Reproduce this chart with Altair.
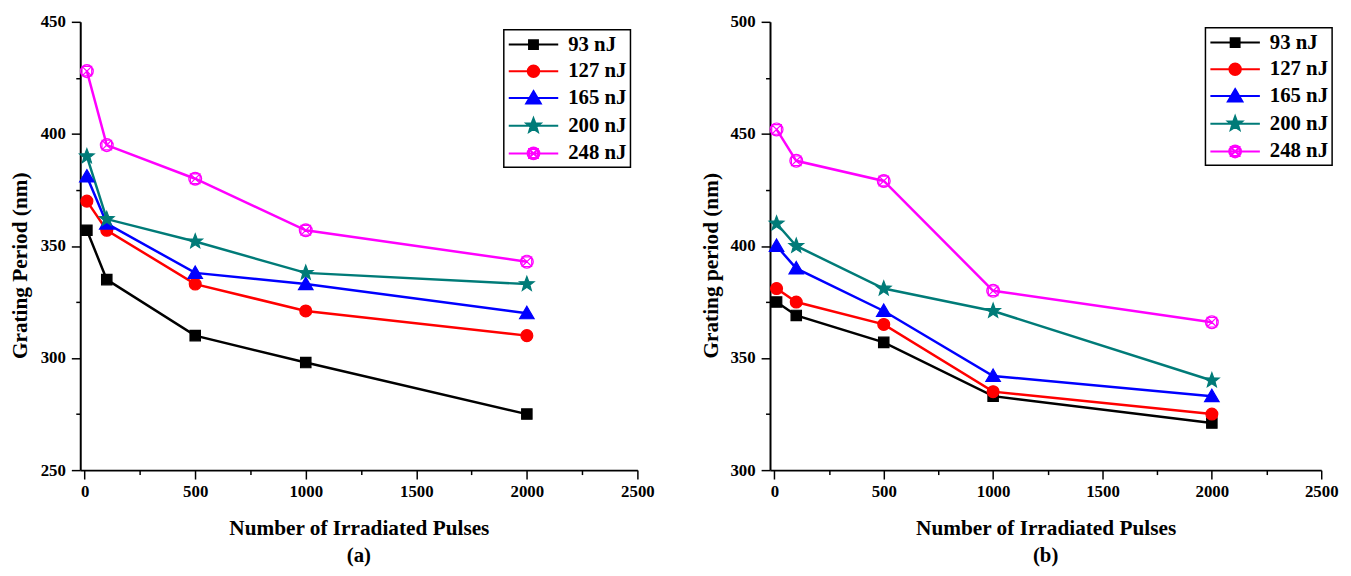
import altair as alt
import pandas as pd
import math

pulses = [10, 100, 500, 1000, 2000]
series = ["93 nJ", "127 nJ", "165 nJ", "200 nJ", "248 nJ"]

period_a = {
    "93 nJ": [357, 335, 310, 298, 275],
    "127 nJ": [370, 357, 333, 321, 310],
    "165 nJ": [381, 360, 338, 333, 320],
    "200 nJ": [390, 362, 352, 338, 333],
    "248 nJ": [428, 395, 380, 357, 343],
}
period_b = {
    "93 nJ": [375, 369, 357, 333, 321],
    "127 nJ": [381, 375, 365, 335, 325],
    "165 nJ": [400, 390, 371, 342, 333],
    "200 nJ": [410, 400, 381, 371, 340],
    "248 nJ": [452, 438, 429, 380, 366],
}

line_colors = ["#000000", "#FF0000", "#0000FF", "#007B78", "#FF00FF"]
fill_colors = ["#000000", "#FF0000", "#0000FF", "#007B78", "transparent"]

FONT = "Liberation Serif"


def sq(h):
    return f"M{-h},{-h}H{h}V{h}H{-h}Z"


def ci(r):
    return f"M{-r},0A{r},{r} 0 1,1 {r},0A{r},{r} 0 1,1 {-r},0Z"


def tri(r):
    return f"M0,{-r}L{r * 1.05:.3f},{r * 0.8:.3f}H{-r * 1.05:.3f}Z"


def star(r):
    pts = []
    for i in range(10):
        rr = r if i % 2 == 0 else r * 0.42
        a = math.radians(-90 + 36 * i)
        pts.append(f"{rr * math.cos(a):.3f},{rr * math.sin(a):.3f}")
    return "M" + "L".join(pts) + "Z"


def cix(r):
    d = r * 0.75
    return (ci(r) + f"M{-d:.3f},{-d:.3f}L{d:.3f},{d:.3f}M{-d:.3f},{d:.3f}L{d:.3f},{-d:.3f}"
            + sq(d))


plot_shapes = [sq(1.05), ci(1.2), tri(1.4), star(1.55), cix(1.3)]
LINE = "M-2.5,0H2.5"
legend_shapes = [LINE + sq(0.45), LINE + ci(0.58), LINE + tri(0.7),
                 LINE + star(0.75), LINE + cix(0.6)]


def frame(values):
    rows = []
    for s in series:
        for p, v in zip(pulses, values[s]):
            rows.append({"pulses": p, "period": v, "series": s})
    return pd.DataFrame(rows)


def panel(values, ymin, ymax, ytitle, tag, lx, ly, width, ytp):
    df = frame(values)
    xs = alt.Scale(domain=[-20, 2500], nice=False, zero=False)
    ys = alt.Scale(domain=[ymin, ymax], nice=False, zero=False)
    major_y = list(range(ymin, ymax + 1, 50))
    minor_y = list(range(ymin + 25, ymax, 50))
    tick_style = dict(tickColor="black", tickWidth=1.5, grid=False)
    common_axis = dict(domainColor="black", domainWidth=2, labelFlush=False, **tick_style)

    lines = alt.Chart(df).mark_line(strokeWidth=2.5).encode(
        x=alt.X("pulses:Q", scale=xs,
                axis=alt.Axis(orient="bottom", values=[250, 750, 1250, 1750, 2250],
                              labels=False, tickSize=4.5, title=None, domain=False,
                              **tick_style)),
        y=alt.Y("period:Q", scale=ys,
                axis=alt.Axis(orient="left", values=minor_y, labels=False, tickSize=4.5,
                              title=None, domain=False, **tick_style)),
        color=alt.Color("series:N", scale=alt.Scale(domain=series, range=line_colors),
                        legend=None),
        order=alt.Order("pulses:Q"),
    )

    points = alt.Chart(df).mark_point(size=100, strokeWidth=1.2, opacity=1).encode(
        x=alt.X("pulses:Q", scale=xs,
                axis=alt.Axis(orient="bottom", values=[0, 500, 1000, 1500, 2000, 2500],
                              format="d", tickSize=9, labelPadding=5,
                              title="Number of Irradiated Pulses",
                              titlePadding=18, **common_axis)),
        y=alt.Y("period:Q", scale=ys,
                axis=alt.Axis(orient="left", values=major_y, format="d", tickSize=9,
                              labelPadding=6, title=ytitle, titlePadding=ytp,
                              titleY=246, **common_axis)),
        fill=alt.Fill("series:N", scale=alt.Scale(domain=series, range=fill_colors),
                      legend=None),
        stroke=alt.Stroke("series:N", scale=alt.Scale(domain=series, range=line_colors),
                          legend=None),
        shape=alt.Shape("series:N", scale=alt.Scale(domain=series, range=plot_shapes),
                        legend=None),
    )

    leg = alt.Legend(title=None, orient="none", legendX=lx, legendY=ly,
                     symbolSize=400, symbolStrokeWidth=2, symbolOffset=15,
                     labelOffset=24, labelFont=FONT, labelFontSize=21,
                     labelFontWeight="bold", labelColor="black", rowPadding=6,
                     padding=4, strokeColor="black")
    legend_layer = alt.Chart(df).mark_point(opacity=1).encode(
        fill=alt.Fill("series:N", scale=alt.Scale(domain=series, range=fill_colors),
                      legend=leg),
        stroke=alt.Stroke("series:N", scale=alt.Scale(domain=series, range=line_colors),
                          legend=leg),
        shape=alt.Shape("series:N", scale=alt.Scale(domain=series, range=legend_shapes),
                        legend=leg),
    ).transform_filter("false")

    return alt.layer(lines, points, legend_layer).resolve_scale(
        shape="independent", fill="independent", stroke="independent"
    ).resolve_axis(x="independent", y="independent").properties(
        width=width, height=453,
        title=alt.TitleParams(tag, orient="bottom", font=FONT, fontSize=21,
                              fontWeight="bold", color="black", offset=6),
    )


pa = panel(period_a, 250, 450, "Grating Period (nm)", "(a)", 428, 8, 563, 9)
pb = panel(period_b, 300, 500, "Grating period (nm)", "(b)", 440, 6, 557, 8)

chart = alt.hconcat(pa, pb, spacing=46).properties(
    padding={"left": 1, "top": 2, "right": 5, "bottom": 5}
).configure_view(stroke=None).configure_axis(
    labelFont=FONT, labelFontSize=17, labelFontWeight="bold", labelColor="black",
    titleFont=FONT, titleFontSize=21.5, titleFontWeight="bold", titleColor="black",
).configure_legend(strokeWidth=1.5)

chart.save("out.html", embed_options={"renderer": "svg", "actions": False})
